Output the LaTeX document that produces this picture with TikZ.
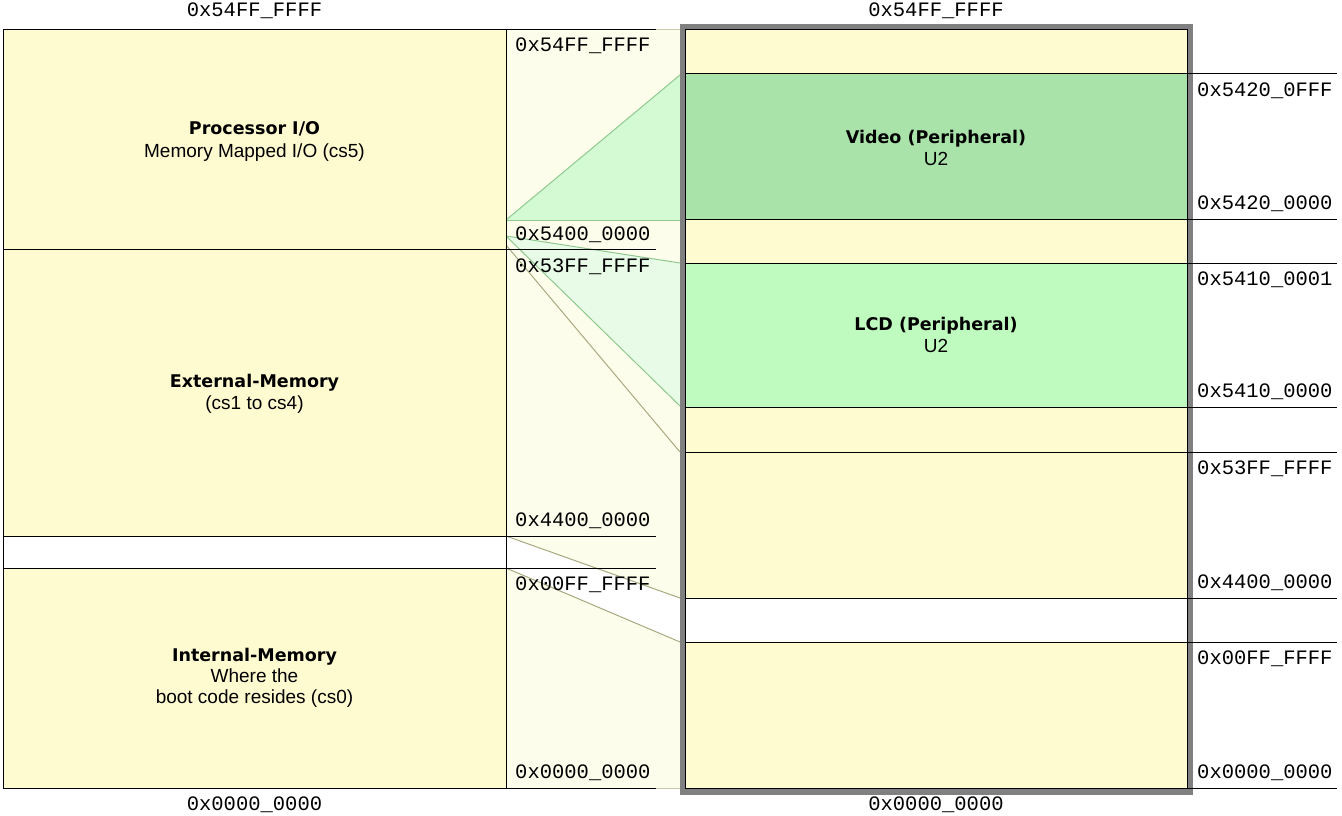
\documentclass[tikz,border=0pt]{standalone}
\usepackage{fontspec}
\newfontfamily\hexf{Liberation Mono}
\newfontfamily\regf{Liberation Sans}
\newfontfamily\boldf{DejaVu Sans}
\definecolor{ybox}{HTML}{FFFBD0}
\definecolor{midpale}{HTML}{FDFDEC}
\definecolor{vidgreen}{HTML}{AAE3AA}
\definecolor{lcdgreen}{HTML}{BFFBBF}
\definecolor{vidmap}{HTML}{D3FAD3}
\definecolor{lcdmap}{HTML}{E7FBE7}
\definecolor{mapgreen}{HTML}{8FC98F}
\definecolor{mapolive}{HTML}{A9A982}
\definecolor{frame}{HTML}{808080}
\definecolor{fadeline}{HTML}{C8C8AC}
\tikzset{
  hex/.style={font=\hexf\fontsize{20.5}{22}\selectfont, inner sep=0pt, anchor=base west},
  hexc/.style={font=\hexf\fontsize{20.5}{22}\selectfont, inner sep=0pt, anchor=base},
  ttl/.style={font=\boldf\bfseries\fontsize{17.5}{20}\selectfont, inner sep=0pt, anchor=base},
  sub/.style={font=\regf\fontsize{19}{21}\selectfont, inner sep=0pt, anchor=base},
  lbox/.style={draw=black, line width=1pt, fill=ybox, anchor=north west, inner sep=0pt, outer sep=0pt, minimum width=503pt},
  rbox/.style={draw=black, line width=1pt, anchor=north west, inner sep=0pt, outer sep=0pt, minimum width=502pt},
  blk/.style={draw=black, line width=1pt},
  greenedge/.style={draw=mapgreen, line width=1pt},
  oliveedge/.style={draw=mapolive, line width=1pt},
}
\begin{document}
\begin{tikzpicture}[x=1pt,y=-1pt]
\useasboundingbox[fill=white] (0,0) rectangle (1342,816);

% middle mapping column
\fill[midpale] (506,30) rectangle (680,788);
\coordinate (mL1) at (506,536);
\coordinate (mL2) at (506,568);
\coordinate (mR1) at (680,598);
\coordinate (mR2) at (680,642);
\fill[white] (mL1) -- (mR1) -- (mR2) -- (mL2) -- cycle;

% video mapping
\coordinate (vL) at (506,220);
\coordinate (vRt) at (680,75);
\coordinate (vRb) at (680,220);
\fill[vidmap] (vL) -- (vRt) -- (vRb) -- cycle;
\draw[greenedge] (vL) -- (vRt);
\draw[greenedge] (vL) -- (vRb);

% lcd mapping
\coordinate (cL) at (506,236);
\coordinate (cRt) at (680,263);
\coordinate (cRb) at (680,406);
\fill[lcdmap] (cL) -- (cRt) -- (cRb) -- cycle;
\draw[greenedge] (cL) -- (cRt);
\draw[greenedge] (cL) -- (cRb);

% external memory mapping
\coordinate (eL) at (506,245);
\coordinate (eR) at (680,452);
\draw[oliveedge] (eL) -- (eR);
\draw[oliveedge] (mL1) -- (mR1);
\draw[oliveedge] (mL2) -- (mR2);

% left boxes
\node[lbox, minimum height=219pt] (proc) at (3,30) {};
\node[lbox, minimum height=287pt] (ext) at (3,249) {};
\node[lbox, minimum height=32pt, fill=white] (gapL) at (3,536) {};
\node[lbox, minimum height=220pt] (int) at (3,568) {};

% extension lines through middle column
\coordinate (t1) at (656,30);
\coordinate (t2) at (656,249);
\coordinate (t3) at (656,536);
\coordinate (t4) at (656,568);
\coordinate (t5) at (656,788);
\draw[blk] (proc.north east) -- (t1);
\draw[blk] (proc.south east) -- (t2);
\draw[blk] (ext.south east) -- (t3);
\draw[blk] (int.north east) -- (t4);
\draw[blk] (int.south east) -- (t5);
\draw[fadeline, line width=1pt] (t1) -- (680,30);
\draw[fadeline, line width=1pt] (t5) -- (680,788);

% right box frame
\fill[frame] (680,24) rectangle (1193,795);
\node[rbox, fill=ybox, minimum height=44pt] (r0) at (685,30) {};
\node[rbox, fill=vidgreen, minimum height=145pt] (vid) at (685,74) {};
\node[rbox, fill=ybox, minimum height=44pt] (r1) at (685,219) {};
\node[rbox, fill=lcdgreen, minimum height=144pt] (lcd) at (685,263) {};
\node[rbox, fill=ybox, minimum height=45pt] (r2) at (685,407) {};
\node[rbox, fill=ybox, minimum height=146pt] (rext) at (685,452) {};
\node[rbox, fill=white, minimum height=44pt] (rgap) at (685,598) {};
\node[rbox, fill=ybox, minimum height=146pt] (rint) at (685,642) {};

% right tick lines
\foreach \yy in {74,219,263,407,452,598,642,788}
  \draw[blk] (1187,\yy) -- (1337,\yy);

% top and bottom labels
\node[hexc] (topL) at (254.5,17) {0x54FF\_FFFF};
\node[hexc] (topR) at (936,17) {0x54FF\_FFFF};
\node[hexc] (botL) at (254.5,810) {0x0000\_0000};
\node[hexc] (botR) at (936,810) {0x0000\_0000};

% middle labels
\node[hex] (m1) at (515,52) {0x54FF\_FFFF};
\node[hex] (m2) at (515,240) {0x5400\_0000};
\node[hex] (m3) at (515,272) {0x53FF\_FFFF};
\node[hex] (m4) at (515,526) {0x4400\_0000};
\node[hex] (m5) at (515,590) {0x00FF\_FFFF};
\node[hex] (m6) at (515,778) {0x0000\_0000};

% right labels
\node[hex] (r1l) at (1197,96) {0x5420\_0FFF};
\node[hex] (r2l) at (1197,209) {0x5420\_0000};
\node[hex] (r3l) at (1197,285) {0x5410\_0001};
\node[hex] (r4l) at (1197,397) {0x5410\_0000};
\node[hex] (r5l) at (1197,474) {0x53FF\_FFFF};
\node[hex] (r6l) at (1197,588) {0x4400\_0000};
\node[hex] (r7l) at (1197,664) {0x00FF\_FFFF};
\node[hex] (r8l) at (1197,778) {0x0000\_0000};

% region texts
\node[ttl] (procT) at (254.5,135) {Processor I/O};
\node[sub] (procS) at (254.5,157) {Memory Mapped I/O (cs5)};
\node[ttl] (extT) at (254.5,387) {External-Memory};
\node[sub] (extS) at (254.5,409) {(cs1 to cs4)};
\node[ttl] (intT) at (254.5,661) {Internal-Memory};
\node[sub] (intS1) at (254.5,682) {Where the};
\node[sub] (intS2) at (254.5,703) {boot code resides (cs0)};
\node[ttl] (vidT) at (936,143) {Video (Peripheral)};
\node[sub] (vidS) at (936,165) {U2};
\node[ttl] (lcdT) at (936,330) {LCD (Peripheral)};
\node[sub] (lcdS) at (936,352) {U2};
\end{tikzpicture}
\end{document}
